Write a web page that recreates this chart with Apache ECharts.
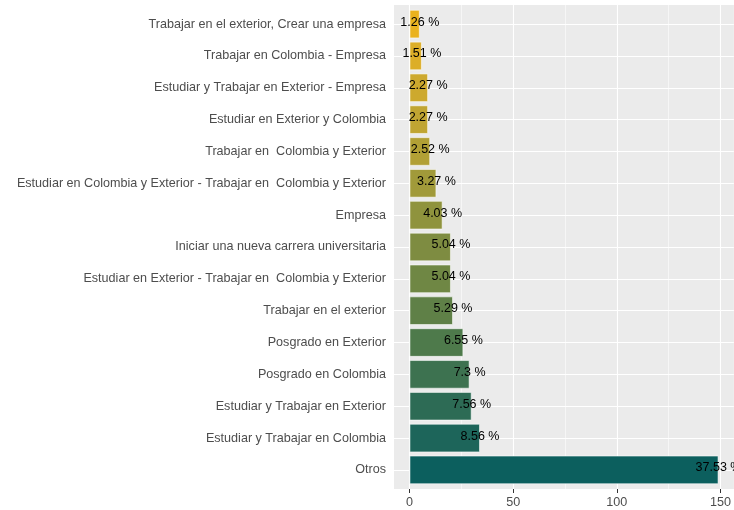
<!DOCTYPE html>
<html>
<head>
<meta charset="utf-8">
<script src="https://cdn.jsdelivr.net/npm/echarts@6/dist/echarts.min.js"></script>
<style>
  html, body { margin: 0; padding: 0; background: #fff; }
  #main { width: 734px; height: 510px; }
</style>
</head>
<body>
<div id="main"></div>
<script>
// categorias (de arriba hacia abajo)
const categories = [
  'Trabajar en el exterior, Crear una empresa',
  'Trabajar en Colombia - Empresa',
  'Estudiar y Trabajar en Exterior - Empresa',
  'Estudiar en Exterior y Colombia',
  'Trabajar en  Colombia y Exterior',
  'Estudiar en Colombia y Exterior - Trabajar en  Colombia y Exterior',
  'Empresa',
  'Iniciar una nueva carrera universitaria',
  'Estudiar en Exterior - Trabajar en  Colombia y Exterior',
  'Trabajar en el exterior',
  'Posgrado en Exterior',
  'Posgrado en Colombia',
  'Estudiar y Trabajar en Exterior',
  'Estudiar y Trabajar en Colombia',
  'Otros'
];
const counts = [5, 6, 9, 9, 10, 13, 16, 20, 20, 21, 26, 29, 30, 34, 149];
const percents = ['1.26 %', '1.51 %', '2.27 %', '2.27 %', '2.52 %', '3.27 %', '4.03 %', '5.04 %',
  '5.04 %', '5.29 %', '6.55 %', '7.3 %', '7.56 %', '8.56 %', '37.53 %'];
const barColors = ['#EAB21E', '#DCAE28', '#CDA92E', '#C0A532', '#B2A035', '#A19A3A', '#8F933D',
  '#7E8C41', '#6F8744', '#5F8047', '#4E7A4B', '#3D7250', '#2D6B55', '#1D655A', '#0C5F5E'];
const xTicks = [0, 50, 100, 150];
const xMinor = [25, 75, 125];

const xMin = -7.45, xMax = 156.45; // expansion 5% como ggplot
const band = (510 - 5 - 21) / 15.2; // expansion discreta 0.6

let chart = echarts.init(document.getElementById('main'), null, { renderer: 'canvas' });

let gridLines = [];
xTicks.forEach(v => gridLines.push({ xAxis: v, lineStyle: { width: 1.1 } }));
xMinor.forEach(v => gridLines.push({ xAxis: v, lineStyle: { width: 0.55 } }));
categories.forEach((c, i) => gridLines.push({ yAxis: i + 1, lineStyle: { width: 1.1 } }));

let option = {
  animation: false,
  textStyle: { fontFamily: 'Liberation Sans, Arial, sans-serif' },
  grid: [{
    // barras
    left: 394, right: 0, top: 5 + 0.1 * band, bottom: 21 + 0.1 * band
  }, {
    // panel gris
    left: 394, right: 0, top: 5, bottom: 21,
    show: true, backgroundColor: '#EBEBEB', borderWidth: 0
  }],
  xAxis: [{
    gridIndex: 0, type: 'value', min: xMin, max: xMax,
    axisLine: { show: false }, axisTick: { show: false },
    axisLabel: { show: false }, splitLine: { show: false }
  }, {
    gridIndex: 1, type: 'value', min: xMin, max: xMax,
    axisLine: { show: false },
    axisTick: { show: true, customValues: xTicks, length: 4, lineStyle: { color: '#333333', width: 1 } },
    axisLabel: { show: true, customValues: xTicks, color: '#4D4D4D', fontSize: 12.6, margin: 7 },
    splitLine: { show: false }
  }],
  yAxis: [{
    gridIndex: 0, type: 'category', inverse: true, data: categories,
    axisLine: { show: false },
    axisTick: { show: true, alignWithLabel: true, length: 4, lineStyle: { color: '#333333', width: 1 } },
    axisLabel: { color: '#4D4D4D', fontSize: 12.6, margin: 8 },
    splitLine: { show: false }
  }, {
    gridIndex: 1, type: 'value', min: 0.4, max: 15.6,
    axisLine: { show: false }, axisTick: { show: false },
    axisLabel: { show: false }, splitLine: { show: false }
  }],
  series: [{
    type: 'line',
    xAxisIndex: 1, yAxisIndex: 1,
    data: [],
    z: 1,
    markLine: {
      silent: true, symbol: ['none', 'none'], z: 1,
      label: { show: false },
      lineStyle: { color: '#FFFFFF', type: 'solid' },
      emphasis: { disabled: true },
      data: gridLines
    }
  }, {
    type: 'bar',
    xAxisIndex: 0, yAxisIndex: 0,
    barWidth: '90%',
    z: 3,
    data: counts.map((v, i) => ({
      value: v,
      itemStyle: { color: barColors[i] }
    })),
    itemStyle: { borderColor: 'rgba(255,255,255,0.55)', borderWidth: 1 },
    label: {
      show: true,
      position: ['100%', '50%'],
      align: 'center',
      verticalAlign: 'middle',
      offset: [0, -2],
      color: '#000000',
      fontSize: 12.5,
      formatter: p => percents[p.dataIndex]
    }
  }]
};

chart.setOption(option);
</script>
</body>
</html>
